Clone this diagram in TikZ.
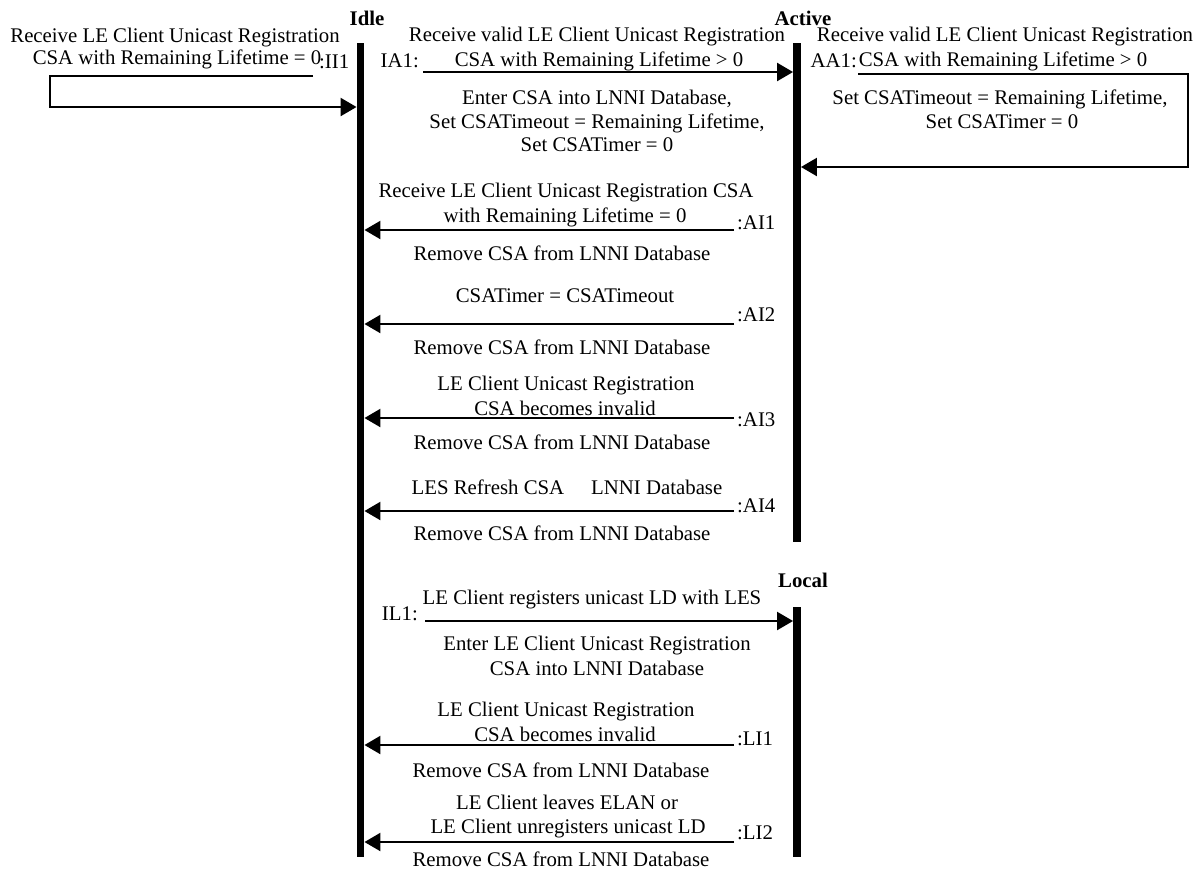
\documentclass[tikz,border=0pt]{standalone}
\usepackage{fontspec}
\setmainfont{Liberation Serif}
\usetikzlibrary{arrows.meta}
\begin{document}
\begin{tikzpicture}[x=1pt,y=-1pt,
  txt/.style={anchor=base, inner sep=0pt, font=\fontsize{20.8}{25}\selectfont},
  state/.style={anchor=base, inner sep=0pt, font=\fontsize{20.8}{25}\selectfont\bfseries},
  lifeline/.style={fill=black, draw=none, inner sep=0pt, minimum width=7.5pt},
  msg/.style={line width=2.3pt, line join=miter, -{Triangle[length=16pt,width=18pt]}}]
\useasboundingbox (0,0) rectangle (1204,871);

% state lifelines
\node[lifeline, minimum height=814pt] (idle)   at (360.5,450) {};
\node[lifeline, minimum height=499pt] (active) at (797,292.5) {};
\node[lifeline, minimum height=250pt] (local)  at (797,732) {};
\node[state] (idleL)   at (367,25)  {Idle};
\node[state] (activeL) at (803,25)  {Active};
\node[state] (localL)  at (803,587) {Local};

% II1: Idle -> Idle
\node[txt] (ii1a) at (175,42) {Receive LE Client Unicast Registration};
\node[txt] (ii1b) at (177,64) {CSA with Remaining Lifetime = 0};
\node[txt, anchor=base west] (ii1l) at (319,68) {:II1};
\coordinate (ii1s) at (313,76);
\coordinate (ii1c) at (50,76);
\coordinate (ii1d) at (50,107);
\draw[msg] (ii1s) -- (ii1c) -- (ii1d) -- (ii1d -| idle.west);

% IA1: Idle -> Active
\node[txt] (ia1a) at (597,41) {Receive valid LE Client Unicast Registration};
\node[txt] (ia1b) at (599,66) {CSA with Remaining Lifetime > 0};
\node[txt, anchor=base east] (ia1l) at (419,67) {IA1:};
\coordinate (ia1s) at (423,72);
\draw[msg] (ia1s) -- (ia1s -| active.west);
\node[txt] (ia1c) at (597,104) {Enter CSA into LNNI Database,};
\node[txt] (ia1d) at (597,128) {Set CSATimeout = Remaining Lifetime,};
\node[txt] (ia1e) at (597,151) {Set CSATimer = 0};

% AA1: Active -> Active
\node[txt] (aa1a) at (1005,41) {Receive valid LE Client Unicast Registration};
\node[txt] (aa1b) at (1003,66) {CSA with Remaining Lifetime > 0};
\node[txt, anchor=base east] (aa1l) at (857,67) {AA1:};
\coordinate (aa1s) at (858,74);
\coordinate (aa1c) at (1188,74);
\coordinate (aa1d) at (1188,167);
\draw[msg] (aa1s) -- (aa1c) -- (aa1d) -- (aa1d -| active.east);
\node[txt] (aa1e) at (1000,104) {Set CSATimeout = Remaining Lifetime,};
\node[txt] (aa1f) at (1002,128) {Set CSATimer = 0};

% AI1
\node[txt] (ai1a) at (566,197) {Receive LE Client Unicast Registration CSA};
\node[txt] (ai1b) at (565,222) {with Remaining Lifetime = 0};
\coordinate (ai1s) at (734,230);
\draw[msg] (ai1s) -- (ai1s -| idle.east);
\node[txt, anchor=base west] (ai1l) at (737,229) {:AI1};
\node[txt] (ai1c) at (562,260) {Remove CSA from LNNI Database};

% AI2
\node[txt] (ai2a) at (565,302) {CSATimer = CSATimeout};
\coordinate (ai2s) at (734,324);
\draw[msg] (ai2s) -- (ai2s -| idle.east);
\node[txt, anchor=base west] (ai2l) at (737,321) {:AI2};
\node[txt] (ai2c) at (562,354) {Remove CSA from LNNI Database};

% AI3
\node[txt] (ai3a) at (566,390) {LE Client Unicast Registration};
\node[txt] (ai3b) at (565,415) {CSA becomes invalid};
\coordinate (ai3s) at (734,418);
\draw[msg] (ai3s) -- (ai3s -| idle.east);
\node[txt, anchor=base west] (ai3l) at (737,426) {:AI3};
\node[txt] (ai3c) at (562,449) {Remove CSA from LNNI Database};

% AI4
\node[txt] (ai4a) at (567,494) {LES Refresh CSA\hspace{27pt}LNNI Database};
\coordinate (ai4s) at (734,511);
\draw[msg] (ai4s) -- (ai4s -| idle.east);
\node[txt, anchor=base west] (ai4l) at (737,512) {:AI4};
\node[txt] (ai4c) at (562,540) {Remove CSA from LNNI Database};

% IL1: Idle -> Local
\node[txt] (il1a) at (592,604) {LE Client registers unicast LD with LES};
\node[txt, anchor=base east] (il1l) at (418,620) {IL1:};
\coordinate (il1s) at (425,621);
\draw[msg] (il1s) -- (il1s -| local.west);
\node[txt] (il1c) at (597,650) {Enter LE Client Unicast Registration};
\node[txt] (il1d) at (597,675) {CSA into LNNI Database};

% LI1
\node[txt] (li1a) at (566,716) {LE Client Unicast Registration};
\node[txt] (li1b) at (565,741) {CSA becomes invalid};
\coordinate (li1s) at (734,745);
\draw[msg] (li1s) -- (li1s -| idle.east);
\node[txt, anchor=base west] (li1l) at (737,745) {:LI1};
\node[txt] (li1c) at (561,777) {Remove CSA from LNNI Database};

% LI2
\node[txt] (li2a) at (567,809) {LE Client leaves ELAN or};
\node[txt] (li2b) at (568,833) {LE Client unregisters unicast LD};
\coordinate (li2s) at (734,842);
\draw[msg] (li2s) -- (li2s -| idle.east);
\node[txt, anchor=base west] (li2l) at (737,839) {:LI2};
\node[txt] (li2c) at (561,866) {Remove CSA from LNNI Database};
\end{tikzpicture}
\end{document}
